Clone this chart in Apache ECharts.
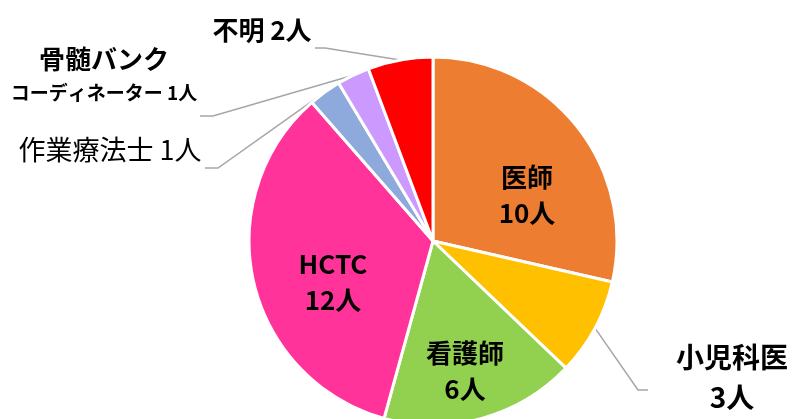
<!DOCTYPE html>
<html>
<head>
<meta charset="utf-8">
<script src="https://cdn.jsdelivr.net/npm/echarts@6/dist/echarts.min.js"></script>
<style>html,body{margin:0;padding:0;background:#fff;}#c{width:792px;height:419px;}</style>
</head>
<body>
<div id="c"></div>
<script>
const categories = ['医師', '小児科医', '看護師', 'HCTC', '作業療法士', '骨髄バンクコーディネーター', '不明'];
const values = [10, 3, 6, 12, 1, 1, 2];
const unit = '人';
const palette = ['#ED7D31', '#FFC000', '#92D050', '#FF3399', '#8EA9DB', '#CC99FF', '#FF0000'];

const FONT = 'Noto Sans CJK JP';
const chart = echarts.init(document.getElementById('c'), null, {renderer: 'canvas'});

// label placement (layout only)
const place = [
  {x: 527, y: 195},
  {x: 732, y: 377, line: [[638, 390], [648, 390]]},
  {x: 465, y: 371},
  {x: 333, y: 282},
  {x: 110, y: 150, line: [[218, 168], [205, 168]]},
  {x: 104, y: 76, line: [[213, 116], [200, 116]]},
  {x: 262, y: 30, line: [[325, 48], [315, 48]]}
];
const inside = [true, false, true, true, false, false, false];

function fmt(i) {
  const n = categories[i], v = values[i];
  if (i === 5) return '{a|' + n.slice(0, 5) + '}\n{b|' + n.slice(5) + ' ' + v + unit + '}';
  if (i === 4) return '{c|' + n + ' ' + v + unit + '}';
  if (i === 6) return n + ' ' + v + unit;
  return n + '\n' + v + unit;
}

const data = categories.map((n, i) => ({
  name: n,
  value: values[i],
  itemStyle: {color: palette[i]},
  label: {
    show: true,
    position: inside[i] ? 'inside' : 'outside',
    formatter: fmt(i),
    fontSize: i === 1 ? 28 : (inside[i] ? 26 : 26),
    lineHeight: i === 1 ? 40 : 36
  },
  labelLine: {show: !inside[i]}
}));

chart.setOption({
  backgroundColor: '#ffffff',
  animation: false,
  series: [{
    type: 'pie',
    center: [433, 241],
    radius: [0, 184],
    startAngle: 90,
    clockwise: true,
    avoidLabelOverlap: false,
    itemStyle: {borderColor: '#ffffff', borderWidth: 3},
    label: {
      fontFamily: FONT,
      fontWeight: 'bold',
      color: '#000000',
      align: 'center',
      rich: {
        a: {fontFamily: FONT, fontWeight: 'bold', fontSize: 26, lineHeight: 34, color: '#000', align: 'center'},
        b: {fontFamily: FONT, fontWeight: 'bold', fontSize: 19, lineHeight: 34, color: '#000', align: 'center'},
        c: {fontFamily: FONT, fontWeight: 'normal', fontSize: 27, lineHeight: 34, color: '#000'}
      }
    },
    labelLine: {
      show: true,
      length: 10,
      length2: 10,
      lineStyle: {color: '#A6A6A6', width: 1.5}
    },
    labelLayout: function (p) {
      const pl = place[p.dataIndex];
      const out = {x: pl.x, y: pl.y, align: 'center', verticalAlign: 'middle'};
      if (pl.line && p.labelLinePoints) {
        out.labelLinePoints = [p.labelLinePoints[0].slice(), pl.line[0], pl.line[1]];
      }
      return out;
    },
    data: data
  }]
});
</script>
</body>
</html>
